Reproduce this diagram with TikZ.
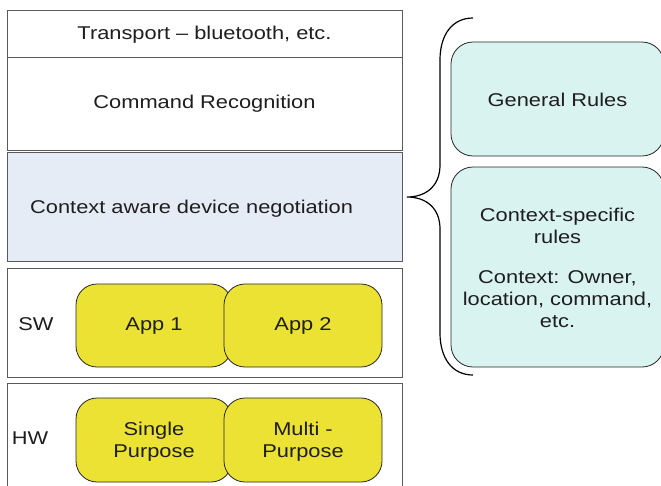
\documentclass[tikz,border=0pt]{standalone}
\usepackage{fontspec}
\setmainfont[FakeStretch=1.18]{Liberation Sans}
\definecolor{layerline}{HTML}{5A5A5A}
\definecolor{ctxblue}{HTML}{E5ECF6}
\definecolor{appyellow}{HTML}{EBE234}
\definecolor{rulecyan}{HTML}{D9F3F1}
\definecolor{txt}{HTML}{1E1E1E}
\tikzset{
  layer/.style={draw=layerline, line width=1pt, rectangle, minimum width=395pt, inner sep=0pt, text=txt},
  yellowbox/.style={draw=black!85, line width=0.8pt, fill=appyellow, rounded corners=21pt, inner sep=0pt, minimum height=83pt, text=txt},
  rulebox/.style={draw=black!85, line width=0.8pt, fill=rulecyan, rounded corners=22pt, inner sep=0pt, minimum width=213pt, text=txt},
  plain/.style={inner sep=0pt, text=txt, align=center},
  brace/.style={draw=black, line width=1.2pt}
}
\begin{document}
\begin{tikzpicture}[x=1pt,y=-1pt,font=\fontsize{18.5}{22}\selectfont]
\useasboundingbox (0,0) rectangle (661,485);
\clip (0,0) rectangle (661,485);
\fill[white] (0,0) rectangle (661,485);
% left stack
\node[layer, minimum height=47pt] (transport) at (204.5,33.5) {};
\node[plain] (transporttext) at (204.5,34.5) {Transport -- bluetooth, etc.};
\node[layer, minimum height=93pt] (command) at (204.5,103.5) {};
\node[plain] (commandtext) at (204.5,103.5) {Command Recognition};
\node[layer, minimum height=109pt, fill=ctxblue] (context) at (204.5,206.5) {};
\node[plain, anchor=west] (contexttext) at (30,208.5) {Context aware device negotiation};
\node[layer, minimum height=109pt] (sw) at (204.5,322.5) {};
\node[plain] (swlabel) at (36,324) {SW};
\node[layer, minimum height=117pt] (hw) at (204.5,441.5) {};
\node[plain] (hwlabel) at (30,438.5) {HW};
% apps
\node[yellowbox, minimum width=156pt] (app1) at (154,325.5) {};
\node[yellowbox, minimum width=158pt] (app2) at (303,325.5) {};
\node[yellowbox, minimum width=156pt, minimum height=84pt] (single) at (154,440) {};
\node[yellowbox, minimum width=158pt, minimum height=84pt] (multi) at (303,440) {};
\node[plain] (app1text) at (154,326) {App 1};
\node[plain] (app2text) at (303,326) {App 2};
\node[plain] (singletext) at (154,441.5) {Single\\Purpose};
\node[plain] (multitext) at (303,441.5) {Multi -\\Purpose};
% rules
\node[rulebox, minimum height=114pt] (general) at (557.5,99) {};
\node[rulebox, minimum height=200pt] (specific) at (557.5,267) {};
\node[plain] (generaltext) at (557.5,99.5) {General Rules};
\node[plain] (specifictext) at (557.5,268) {Context-specific\\rules\\[18pt]Context: Owner,\\location, command,\\etc.};
% brace
\coordinate (btop) at (473,18);
\coordinate (btip) at (407,197);
\coordinate (bbot) at (473,375);
\draw[brace] (btop) .. controls (452,18) and (440,35) .. (440,60) -- (440,165)
  .. controls (440,186) and (426,197) .. (btip)
  .. controls (426,197) and (440,208) .. (440,229) -- (440,333)
  .. controls (440,358) and (452,375) .. (bbot);
\end{tikzpicture}
\end{document}
